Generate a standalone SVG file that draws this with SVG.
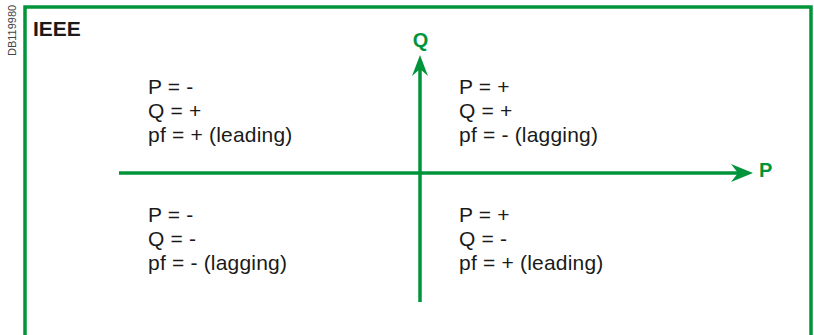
<svg xmlns="http://www.w3.org/2000/svg" width="814" height="335" viewBox="0 0 814 335">
<style>
.q{font-family:"Liberation Sans",Arial,sans-serif;font-size:21px;letter-spacing:0.2px;fill:#1a1a1a}
.ax{stroke:#00953a;stroke-width:3.5;fill:none}
.lbl{font-family:"Liberation Sans",Arial,sans-serif;font-size:20px;font-weight:bold;fill:#00953a}
.head{fill:#00953a}
</style>
<rect width="814" height="335" fill="#ffffff"/>
<text x="16" y="56" transform="rotate(-90 16 56)" font-family="'Liberation Sans',Arial,sans-serif" font-size="11" fill="#444444">DB119980</text>
<path d="M25,335 V7 H811 V335" class="ax"/>
<text x="33" y="36" font-family="'Liberation Sans',Arial,sans-serif" font-size="21" font-weight="bold" fill="#1a1a1a">IEEE</text>
<g id="connectors">
<line x1="119" y1="173" x2="740" y2="173" class="ax"/>
<polygon class="head" points="753,173 731,164 738,173 731,182"/>
<line x1="420" y1="302" x2="420" y2="68" class="ax"/>
<polygon class="head" points="420,55 428,76 420,69 412,76"/>
</g>
<g id="axis-labels">
<text x="420.5" y="47" text-anchor="middle" class="lbl">Q</text>
<text x="759" y="177" class="lbl">P</text>
</g>
<g id="q2">
<text class="q" x="148" y="94">P = -</text>
<text class="q" x="148" y="118">Q = +</text>
<text class="q" x="148" y="142">pf = + (leading)</text>
</g>
<g id="q1">
<text class="q" x="459" y="94">P = +</text>
<text class="q" x="459" y="118">Q = +</text>
<text class="q" x="459" y="142">pf = - (lagging)</text>
</g>
<g id="q3">
<text class="q" x="148" y="222">P = -</text>
<text class="q" x="148" y="246">Q = -</text>
<text class="q" x="148" y="270">pf = - (lagging)</text>
</g>
<g id="q4">
<text class="q" x="459" y="222">P = +</text>
<text class="q" x="459" y="246">Q = -</text>
<text class="q" x="459" y="270">pf = + (leading)</text>
</g>
</svg>
